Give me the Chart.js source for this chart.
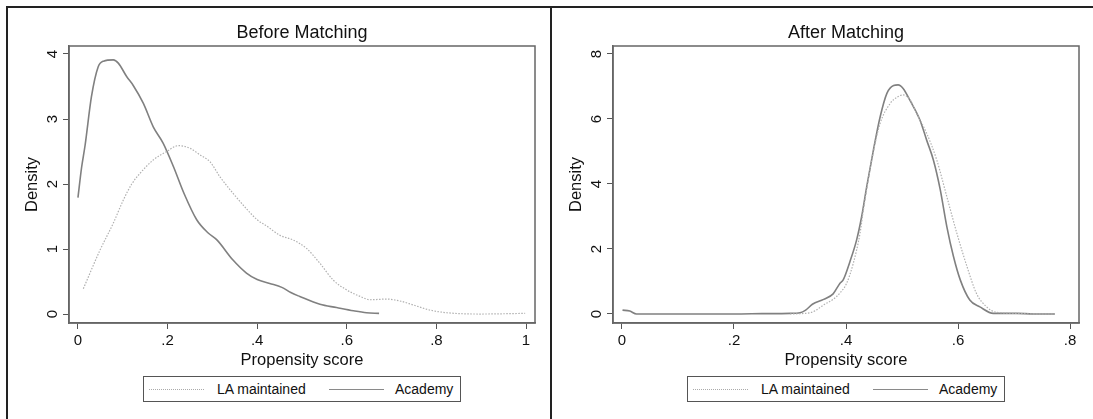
<!DOCTYPE html>
<html>
<head>
<meta charset="utf-8">
<script src="https://cdn.jsdelivr.net/npm/chart.js@4.4.1/dist/chart.umd.min.js"></script>
<style>
  html, body { margin: 0; padding: 0; background: #fff; }
  body { width: 1093px; height: 419px; position: relative; overflow: hidden;
         font-family: 'Liberation Sans', Arial, sans-serif; color: #111; }
  canvas { position: absolute; top: 0; }
  .rule { position: absolute; background: #222; }
  .legend { position: absolute; top: 376px; height: 26px; width: 318px; box-sizing: border-box;
            border: 1px solid #555; background: #fff; }
  .legend .sample { position: absolute; top: 12px; width: 55px; height: 0; }
  .legend .dot { border-top: 1px dotted #aaa; }
  .legend .solid { border-top: 1px solid #8a8a8a; }
  .legend span { position: absolute; top: 4px; font-size: 14px; line-height: 16px; white-space: nowrap; }
</style>
</head>
<body>
<canvas id="before" width="549" height="370" style="left:0"></canvas>
<canvas id="after" width="549" height="370" style="left:544px"></canvas>

<div class="rule" style="left:6px; top:6px; width:1087px; height:1.5px"></div>
<div class="rule" style="left:6px; top:6px; width:1.5px; height:413px"></div>
<div class="rule" style="left:550px; top:6px; width:1.5px; height:413px"></div>

<div class="legend" style="left:143px">
  <div class="sample dot" style="left:5px"></div><span style="left:73px">LA maintained</span>
  <div class="sample solid" style="left:185px"></div><span style="left:251px">Academy</span>
</div>
<div class="legend" style="left:687px">
  <div class="sample dot" style="left:5px"></div><span style="left:73px">LA maintained</span>
  <div class="sample solid" style="left:185px"></div><span style="left:251px">Academy</span>
</div>

<script>
// before matching: kernel density of propensity score
const beforeLaX = [0.012, 0.049, 0.079, 0.101, 0.12, 0.138, 0.168, 0.198, 0.224, 0.25, 0.272, 0.295, 0.317, 0.347,
  0.376, 0.40, 0.42, 0.451, 0.48, 0.51, 0.54, 0.57, 0.60, 0.63, 0.652, 0.689, 0.719, 0.748, 0.786, 0.823, 0.897, 0.998];
const beforeLaY = [0.39, 0.98, 1.40, 1.75, 2.0, 2.16, 2.37, 2.50, 2.59, 2.55, 2.45, 2.34, 2.11, 1.85,
  1.62, 1.45, 1.36, 1.21, 1.14, 1.01, 0.78, 0.52, 0.37, 0.27, 0.22, 0.23, 0.20, 0.14, 0.06, 0.02, 0.0, 0.01];
const beforeAcX = [0.0, 0.008, 0.016, 0.03, 0.045, 0.057, 0.079, 0.09, 0.109, 0.123, 0.146, 0.168, 0.19, 0.213,
  0.237, 0.265, 0.29, 0.31, 0.346, 0.376, 0.40, 0.428, 0.455, 0.475, 0.495, 0.54, 0.577, 0.615, 0.644, 0.672];
const beforeAcY = [1.79, 2.25, 2.6, 3.34, 3.80, 3.89, 3.91, 3.86, 3.65, 3.52, 3.24, 2.88, 2.63, 2.27,
  1.85, 1.45, 1.25, 1.14, 0.83, 0.63, 0.53, 0.47, 0.41, 0.33, 0.27, 0.15, 0.10, 0.05, 0.02, 0.01];

// after matching
const afterLaX = [0.30, 0.336, 0.345, 0.36, 0.377, 0.389, 0.401, 0.413, 0.425, 0.431, 0.449, 0.461, 0.479, 0.492,
  0.502, 0.514, 0.526, 0.544, 0.562, 0.58, 0.598, 0.616, 0.633, 0.651, 0.669, 0.705, 0.734, 0.773];
const afterLaY = [0.0, 0.04, 0.10, 0.28, 0.45, 0.64, 0.94, 1.56, 2.48, 3.2, 5.0, 5.87, 6.48, 6.68,
  6.74, 6.6, 6.17, 5.56, 4.74, 3.61, 2.48, 1.46, 0.63, 0.22, 0.05, 0.02, 0.0, 0.0];
const afterAcX = [0.001, 0.014, 0.026, 0.1, 0.2, 0.25, 0.30, 0.318, 0.328, 0.34, 0.36, 0.377, 0.389, 0.395, 0.407,
  0.419, 0.428, 0.437, 0.449, 0.461, 0.473, 0.485, 0.493, 0.502, 0.514, 0.532, 0.544, 0.556, 0.568, 0.58, 0.592,
  0.604, 0.621, 0.639, 0.663, 0.705, 0.734, 0.773];
const afterAcY = [0.12, 0.09, 0.0, 0.0, 0.0, 0.01, 0.02, 0.04, 0.12, 0.30, 0.45, 0.62, 0.94, 1.05, 1.61,
  2.28, 3.0, 3.92, 5.05, 6.07, 6.79, 7.03, 7.05, 6.94, 6.58, 5.97, 5.35, 4.74, 3.85, 2.69, 1.76,
  1.05, 0.43, 0.22, 0.02, 0.02, 0.0, 0.0];

// tick values and labels
const beforeTicksX = [0, 0.2, 0.4, 0.6, 0.8, 1];
const beforeLabelsX = ['0', '.2', '.4', '.6', '.8', '1'];
const beforeTicksY = [0, 1, 2, 3, 4];
const afterTicksX = [0, 0.2, 0.4, 0.6, 0.8];
const afterLabelsX = ['0', '.2', '.4', '.6', '.8'];
const afterTicksY = [0, 2, 4, 6, 8];

const FONT = "'Liberation Sans', Arial, sans-serif";

// outline of the plot region (top + right, left/bottom come from the axes)
const plotBox = {
  id: 'plotBox',
  afterDraw(chart) {
    const { ctx, chartArea: a } = chart;
    ctx.save();
    ctx.strokeStyle = '#666';
    ctx.lineWidth = 1.5;
    ctx.strokeRect(a.left, a.top, a.right - a.left, a.bottom - a.top);
    ctx.restore();
  }
};

function pts(xs, ys) { return xs.map((x, i) => ({ x: x, y: ys[i] })); }

function densityChart(id, title, laX, laY, acX, acY, ticksX, labelsX, ticksY, xr, yr) {
  return new Chart(document.getElementById(id), {
    type: 'line',
    data: {
      datasets: [
        { label: 'LA maintained', data: pts(laX, laY), borderColor: '#b0b0b0', borderWidth: 1.2,
          borderDash: [1.5, 1.5], pointRadius: 0, cubicInterpolationMode: 'monotone' },
        { label: 'Academy', data: pts(acX, acY), borderColor: '#808080', borderWidth: 1.6,
          pointRadius: 0, cubicInterpolationMode: 'monotone' }
      ]
    },
    options: {
      responsive: false,
      animation: false,
      devicePixelRatio: 1,
      layout: { padding: { left: 0, right: 14, top: 0, bottom: 0 } },
      scales: {
        x: {
          type: 'linear', min: xr[0], max: xr[1],
          afterBuildTicks: s => { s.ticks = ticksX.map(v => ({ value: v })); },
          afterFit: s => { s.height = 47; },
          ticks: { callback: (v, i) => labelsX[i], color: '#111', padding: 2.5, maxRotation: 0,
                   font: { family: FONT, size: 15 } },
          grid: { drawOnChartArea: false, drawTicks: true, tickLength: 6, color: '#555', lineWidth: 1 },
          border: { display: true, color: '#666', width: 1.5 },
          title: { display: true, text: 'Propensity score', color: '#111', padding: { top: 0, bottom: 0 },
                   font: { family: FONT, size: 16.5 } }
        },
        y: {
          type: 'linear', min: yr[0], max: yr[1],
          afterBuildTicks: s => { s.ticks = ticksY.map(v => ({ value: v })); },
          afterFit: s => { s.width = 69; },
          ticks: { callback: v => String(v), color: '#111', padding: 6, minRotation: 90, maxRotation: 90,
                   crossAlign: 'center', font: { family: FONT, size: 15 } },
          grid: { drawOnChartArea: false, drawTicks: true, tickLength: 6, color: '#555', lineWidth: 1 },
          border: { display: true, color: '#666', width: 1.5 },
          title: { display: true, text: 'Density', color: '#111', padding: { top: 22.5, bottom: 0 },
                   font: { family: FONT, size: 16.5 } }
        }
      },
      plugins: {
        legend: { display: false },
        tooltip: { enabled: false },
        title: { display: true, text: title, fullSize: false, color: '#111',
                 padding: { top: 22, bottom: 2.4 }, font: { family: FONT, size: 18, weight: 'normal' } }
      }
    },
    plugins: [plotBox]
  });
}

document.addEventListener('DOMContentLoaded', () => {
  densityChart('before', 'Before Matching', beforeLaX, beforeLaY, beforeAcX, beforeAcY,
    beforeTicksX, beforeLabelsX, beforeTicksY, [-0.02, 1.02], [-0.138, 4.123]);
  densityChart('after', 'After Matching', afterLaX, afterLaY, afterAcX, afterAcY,
    afterTicksX, afterLabelsX, afterTicksY, [-0.016, 0.816], [-0.277, 8.246]);
});
</script>
</body>
</html>
